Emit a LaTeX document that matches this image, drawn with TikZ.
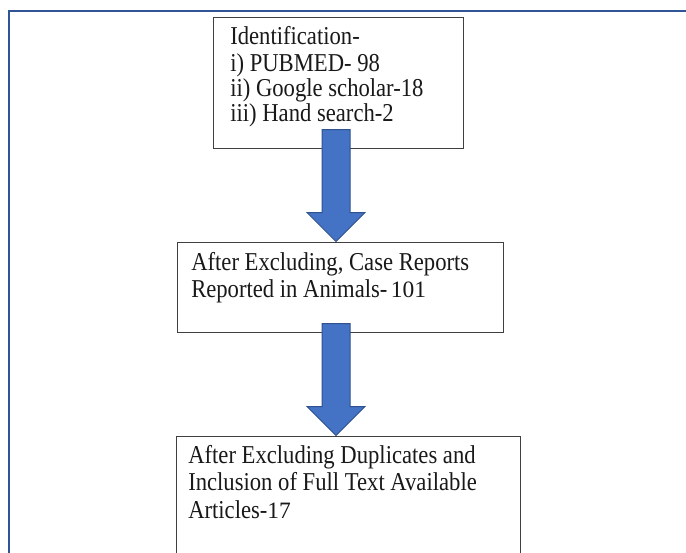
\documentclass[tikz,border=0pt]{standalone}
\usepackage{fontspec}
\setmainfont{Liberation Serif}
\usetikzlibrary{calc}
\definecolor{frameblue}{HTML}{2F5597}
\definecolor{arrowfill}{HTML}{4472C4}
\definecolor{arrowedge}{HTML}{2F528F}
\definecolor{boxgray}{HTML}{404040}
\newcommand\flowarrow[1]{%
  \draw[blockarrow] ($(#1)+(-14,-112)$) -- ($(#1)+(14,-112)$) -- ($(#1)+(14,-29)$)
    -- ($(#1)+(29,-29)$) -- (#1) -- ($(#1)+(-29,-29)$) -- ($(#1)+(-14,-29)$) -- cycle;}
\newcommand\sq[1]{\scalebox{0.88}[1]{\fontsize{19.3}{22}\selectfont #1}}
\newcommand\bignum[1]{{\fontsize{17.6}{19}\selectfont #1}}
\begin{document}
\begin{tikzpicture}[x=0.75pt,y=-0.75pt,
  box/.style={draw=boxgray,line width=0.75pt,rectangle,inner sep=0pt},
  txt/.style={anchor=base west,inner sep=0pt,text=black!90},
  blockarrow/.style={fill=arrowfill,draw=arrowedge,line width=0.75pt,line join=miter}]
\clip (0,0) rectangle (686,553);
\fill[white] (0,0) rectangle (686,553);
\draw[frameblue,line width=1.5pt] (9,560) -- (9,11) -- (690,11);
% boxes
\node[box,minimum width=187.5pt,minimum height=98.25pt] (b1) at (338,82.5) {};
\node[box,minimum width=244.5pt,minimum height=67.5pt] (b2) at (340,287) {};
\node[box,minimum width=258pt,minimum height=123pt] (b3) at (348,518) {};
% texts
\node[txt] (t1a) at (230,45) {\sq{Identification-}};
\node[txt] (t1b) at (230,71) {\sq{i) PUBMED- 98}};
\node[txt] (t1c) at (230,96) {\sq{ii) Google scholar-18}};
\node[txt] (t1d) at (230,121) {\sq{iii) Hand search-2}};
\node[txt] (t2a) at (191,270) {\sq{After Excluding, Case Reports}};
\node[txt] (t2b) at (191,297) {\sq{Reported in Animals-} \bignum{101}};
\node[txt] (t3a) at (188,463) {\sq{After Excluding Duplicates and}};
\node[txt] (t3b) at (188,490) {\sq{Inclusion of Full Text Available}};
\node[txt] (t3c) at (188,518) {\sq{Articles-}\bignum{17}};
% arrows
\coordinate (tip1) at ($(b2.north)+(-4,0)$);
\coordinate (tip2) at ($(b3.north)+(-12,0)$);
\flowarrow{tip1}
\flowarrow{tip2}
\end{tikzpicture}
\end{document}
